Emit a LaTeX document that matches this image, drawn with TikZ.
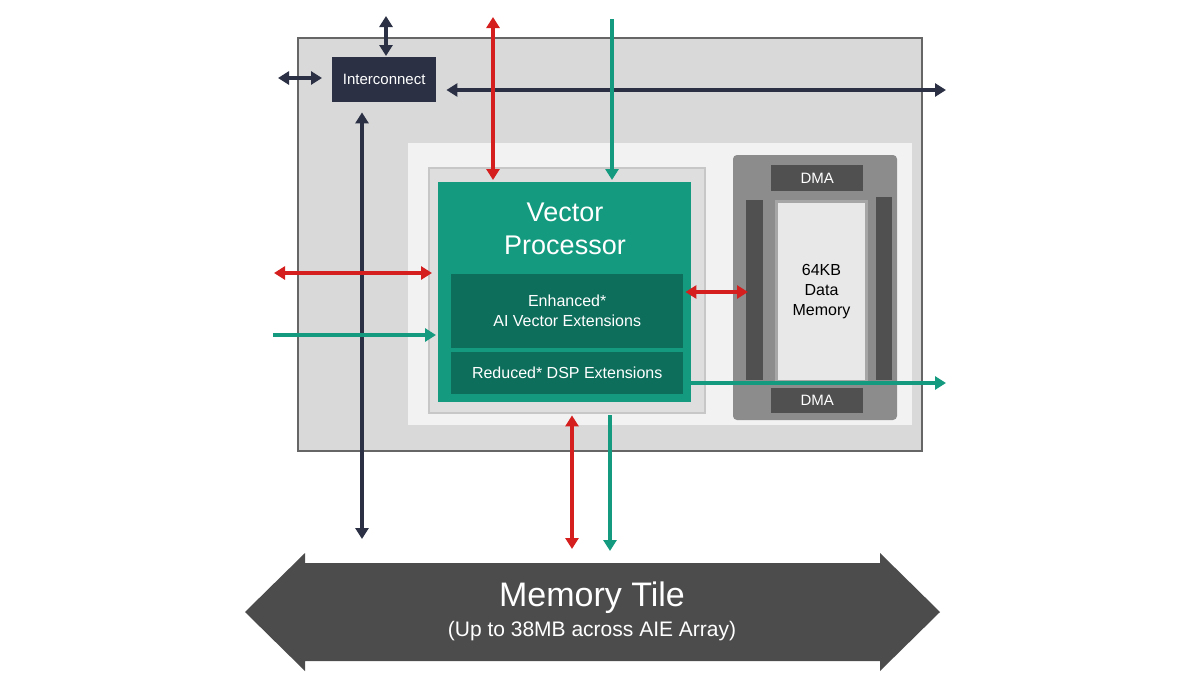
\documentclass[tikz,border=0pt]{standalone}
\usepackage{fontspec}
\setmainfont{Liberation Sans}
\usetikzlibrary{arrows.meta,positioning}
\definecolor{navy}{HTML}{2B3044}
\definecolor{teal1}{HTML}{139A7F}
\definecolor{teal2}{HTML}{0E6E5C}
\definecolor{red1}{HTML}{D51F1F}
\definecolor{dgray}{HTML}{505050}
\tikzset{
  box/.style={draw=none, inner sep=0pt, align=center, text=white},
  bus/.style={line width=3.5pt, -{Triangle[length=11pt,width=13pt]}},
  dbus/.style={line width=3.5pt, {Triangle[length=11pt,width=13pt]}-{Triangle[length=11pt,width=13pt]}}
}
\begin{document}
\begin{tikzpicture}[x=1pt,y=-1pt]
                \useasboundingbox (0,0) rectangle (1200,675);
                % tile frame
                \draw[gray!80!black, line width=1.5pt, fill=black!15] (298,38) rectangle (922,451);
                \fill[black!5] (408,143) rectangle (912,425);
                \draw[black!22, line width=1.5pt, fill=black!13] (429,168) rectangle (705,413);
                % core
                \node[box, fill=teal1, minimum width=253pt, minimum height=220pt, anchor=north west] (vp) at (438,182) {};
                \node[text=white, font=\fontsize{27}{33}\selectfont, align=center] (vpt) at (565,229) {Vector\\Processor};
                \node[box, fill=teal2, minimum width=232pt, minimum height=74pt, anchor=north west, font=\fontsize{16}{20}\selectfont] (ai) at (451,274) {Enhanced*\\AI Vector Extensions};
                \node[box, fill=teal2, minimum width=232pt, minimum height=42pt, anchor=north west, font=\fontsize{16}{19}\selectfont] (dsp) at (451,352) {Reduced* DSP Extensions};
                % data memory
                \fill[black!45, rounded corners=4pt] (733,155) rectangle (897,420);
                \fill[dgray] (746,200) rectangle (763,380);
                \fill[dgray] (876,197) rectangle (892,380);
                \node[box, fill=black!9, draw=black!35, line width=3pt, minimum width=90pt, minimum height=180pt, anchor=north west, text=black, font=\fontsize{16}{20}\selectfont] (mem) at (775,200) {64KB\\Data\\Memory};
                \node[box, fill=dgray, minimum width=92pt, minimum height=26pt, anchor=north west, font=\fontsize{15}{18}\selectfont] (dmat) at (771,165) {DMA};
                \node[box, fill=dgray, minimum width=92pt, minimum height=25pt, anchor=north west, font=\fontsize{15}{18}\selectfont] (dmab) at (771,388) {DMA};
                % interconnect
                \node[box, fill=navy, minimum width=104pt, minimum height=45pt, anchor=north west, font=\fontsize{15}{18}\selectfont] (ic) at (332,57) {Interconnect};
                % free ends
                \coordinate (icn) at (386,16);
                \coordinate (icw) at (278,78);
                \coordinate (ice) at (946,90);
                \coordinate (ics) at (362,539);
                \coordinate (rn) at (493,17);
                \coordinate (tn) at (612,19);
                \coordinate (rw) at (274,273);
                \coordinate (tw) at (273,335);
                \coordinate (te) at (946,383);
                \coordinate (rs) at (572,549);
                \coordinate (ts) at (610,551);
                % buses
                \draw[dbus, navy] (icn) -- ([yshift=1pt]ic.north -| icn);
                \draw[dbus, navy] (icw) -- ([xshift=-10pt]icw -| ic.west);
                \draw[dbus, navy] (ice) -- ([xshift=10pt]ic.east |- ice);
                \draw[dbus, navy] (ics) -- ([yshift=-10pt]ic.south -| ics);
                \draw[dbus, red1] (rn) -- ([yshift=2pt]vp.north -| rn);
                \draw[bus, teal1] (tn) -- ([yshift=2pt]vp.north -| tn);
                \draw[dbus, red1] (rw) -- ([xshift=-6pt]vp.west |- rw);
                \draw[bus, teal1] (tw) -- ([xshift=-2pt]vp.west |- tw);
                \draw[dbus, red1] ([xshift=2pt]ai.east |- 0,292) -- (748,292);
                \draw[bus, teal1] (dsp.east |- te) -- (te);
                \draw[dbus, red1] (rs) -- ([yshift=-13pt]vp.south -| rs);
                \draw[bus, teal1] ([yshift=-13pt]vp.south -| ts) -- (ts);
                % memory tile
                \fill[black!70] (245,612) -- (305,553) -- (305,563) -- (880,563) -- (880,553)
                    -- (940,612) -- (880,671) -- (880,661) -- (305,661) -- (305,671) -- cycle;
                \node[text=white, font=\fontsize{34}{40}\selectfont] (mtt) at (592,598) {Memory Tile};
                \node[text=white, font=\fontsize{21}{25}\selectfont, below=0pt of mtt] (mts) {(Up to 38MB across AIE Array)};
\end{tikzpicture}
\end{document}
